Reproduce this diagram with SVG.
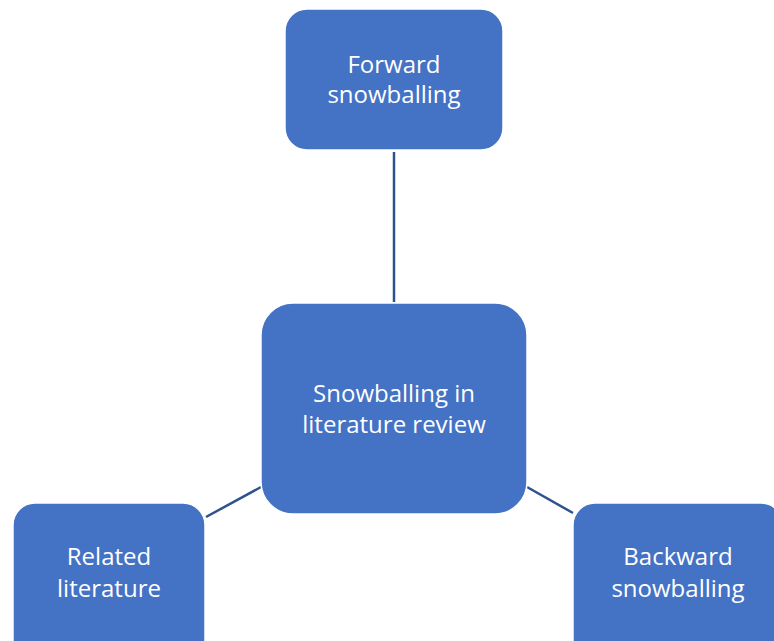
<svg xmlns="http://www.w3.org/2000/svg" width="774" height="641" viewBox="0 0 774 641">
<style>
.box{fill:#4472C4;stroke:#ffffff;stroke-width:1.5}
.lbl{fill:#ffffff;font-family:"Open Sans","Liberation Sans",Arial,sans-serif;font-size:24px;text-anchor:middle}
.con{stroke:#2F528F;stroke-width:2.5;fill:none}
</style>
<rect width="774" height="641" fill="#ffffff"/>
<g id="connectors">
<line class="con" x1="394" y1="152" x2="394" y2="302"/>
<line class="con" x1="206" y1="517" x2="261" y2="487"/>
<line class="con" x1="527" y1="487" x2="573" y2="513"/>
</g>
<g id="forward">
<rect class="box" x="285" y="9" width="218" height="141" rx="22"/>
<text class="lbl" x="394" y="73">Forward</text>
<text class="lbl" x="394" y="103">snowballing</text>
</g>
<g id="center">
<rect class="box" x="261" y="303" width="266" height="211" rx="32"/>
<text class="lbl" x="394" y="402">Snowballing in</text>
<text class="lbl" x="394" y="433">literature review</text>
</g>
<g id="related">
<rect class="box" x="13" y="503" width="192" height="160" rx="22"/>
<text class="lbl" x="109" y="565">Related</text>
<text class="lbl" x="109" y="597">literature</text>
</g>
<g id="backward">
<rect class="box" x="573" y="503" width="210" height="160" rx="22"/>
<text class="lbl" x="678" y="565">Backward</text>
<text class="lbl" x="678" y="597">snowballing</text>
</g>
</svg>
